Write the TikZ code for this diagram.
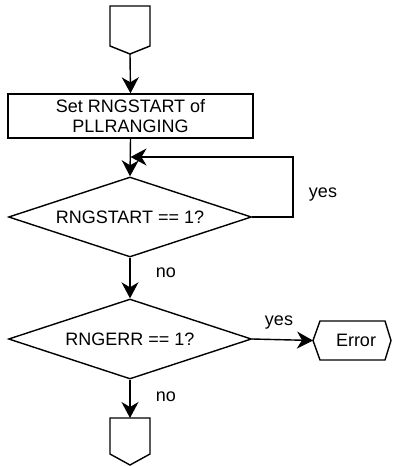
\documentclass[tikz,border=0pt]{standalone}
\usepackage{fontspec}
\setmainfont{Liberation Sans}
\usetikzlibrary{arrows.meta,calc,shapes.geometric}
\begin{document}
\begin{tikzpicture}[x=1pt,y=-1pt,
  every node/.style={font=\fontsize{18}{20}\selectfont},
  line/.style={line width=1.4pt, line join=miter},
  arr/.style={line, -{Stealth[length=16pt,width=17pt,inset=5pt]}},
  proc/.style={draw, line width=1.4pt, rectangle, minimum width=245pt, minimum height=44pt, inner sep=0pt, align=center},
  decision/.style={draw, line width=1.4pt, diamond, shape aspect=3, minimum width=243pt, minimum height=80pt, inner sep=0pt},
  anchorbox/.style={inner sep=0pt, outer sep=0pt},
  lbl/.style={inner sep=0pt}
]
\useasboundingbox (0,0) rectangle (392,466);

% start connector
\node[anchorbox, minimum width=40pt, minimum height=48pt] (start) at (130,30) {};
\draw[line] (start.north west) -- (start.north east) -- ($(start.south east)+(0,-8)$) -- (start.south) -- ($(start.south west)+(0,-8)$) -- cycle;

\node[proc] (set) at (130.5,116) {Set RNGSTART of\\PLLRANGING};
\node[decision] (d1) at (130,217) {RNGSTART == 1?};
\node[decision] (d2) at (130,339) {RNGERR == 1?};

% error terminator
\node[anchorbox, minimum width=78pt, minimum height=39pt] (err) at (352,340.5) {\hspace*{8pt}Error};
\draw[line] (err.west) -- ($(err.north west)+(7,0)$) -- ($(err.north east)+(-6,0)$) -- (err.east) -- ($(err.south east)+(-6,0)$) -- ($(err.south west)+(7,0)$) -- cycle;

% end connector
\node[anchorbox, minimum width=40pt, minimum height=47pt] (end) at (130,441.5) {};
\draw[line] (end.north west) -- (end.north east) -- ($(end.south east)+(0,-11)$) -- (end.south) -- ($(end.south west)+(0,-11)$) -- cycle;

% connectors
\draw[arr] (start.south) -- (set.north);
\draw[arr] (set.south) -- (d1.north);
\coordinate (lr) at (293,217);
\coordinate (lt) at (293,157);
\draw[arr] (d1.east) -- (lr) -- (lt) -- (set.south |- lt);
\draw[arr] (d1.south) -- (d2.north);
\draw[arr] (d2.east) -- (err.west);
\draw[arr] (d2.south) -- (end.north);

% labels
\node[lbl] (yes1) at (323,195) {yes};
\node[lbl] (no1) at (166,273) {no};
\node[lbl] (yes2) at (279,323) {yes};
\node[lbl] (no2) at (166,397) {no};
\end{tikzpicture}
\end{document}
